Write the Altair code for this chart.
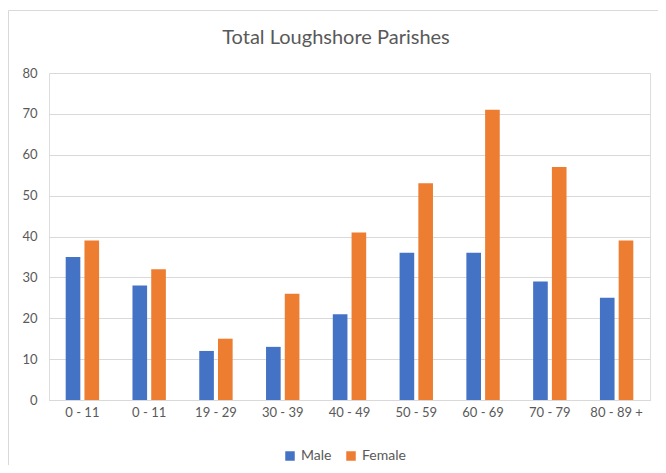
import altair as alt
import pandas as pd

categories = ["0 - 11", "0 - 11", "19 - 29", "30 - 39", "40 - 49", "50 - 59", "60 - 69", "70 - 79", "80 - 89 +"]
male = [35, 28, 12, 13, 21, 36, 36, 29, 25]
female = [39, 32, 15, 26, 41, 53, 71, 57, 39]
series = ["Male", "Female"]
colors = ["#4472C4", "#ED7D31"]
title_text = "Total Loughshore Parishes"

rows = []
for i, c in enumerate(categories):
    rows.append({"idx": i, "cat": c, "series": "Male", "value": male[i]})
    rows.append({"idx": i, "cat": c, "series": "Female", "value": female[i]})
df = pd.DataFrame(rows)
one = pd.DataFrame({"t": [title_text]})

label_expr = "[" + ",".join("'" + c + "'" for c in categories) + "][datum.value]"
FONT = "Lato"
GREY = "#595959"

bars = alt.Chart(df).mark_bar().encode(
    x=alt.X("idx:O", title=None,
            scale=alt.Scale(paddingInner=0.5, paddingOuter=0.25),
            axis=alt.Axis(labelExpr=label_expr, labelAngle=0, ticks=False,
                          domainColor="#D9D9D9", labelPadding=6, grid=False,
                          labelFontSize=13, labelFont=FONT, labelColor=GREY)),
    xOffset=alt.XOffset("series:N", sort=series,
                        scale=alt.Scale(paddingInner=0.22, paddingOuter=0)),
    y=alt.Y("value:Q", title=None,
            scale=alt.Scale(domain=[0, 80]),
            axis=alt.Axis(values=list(range(0, 81, 10)), ticks=False, domain=False,
                          gridColor="#D9D9D9", labelPadding=12,
                          labelFontSize=13, labelFont=FONT, labelColor=GREY)),
    color=alt.Color("series:N", sort=series,
                    scale=alt.Scale(domain=series, range=colors),
                    legend=alt.Legend(title=None, orient="none", direction="horizontal",
                                      legendX=234, legendY=376, symbolType="square",
                                      symbolSize=90, symbolStrokeWidth=0,
                                      labelFontSize=14, labelColor=GREY, labelFont=FONT,
                                      columnPadding=12, symbolOffset=0)),
)

top_line = alt.Chart(one).mark_rule(color="#D9D9D9", strokeWidth=1).encode(
    x=alt.value(-40.5), x2=alt.value(609), y=alt.value(-62.5)
)
left_line = alt.Chart(one).mark_rule(color="#D9D9D9", strokeWidth=1).encode(
    x=alt.value(-40.5), y=alt.value(-62.5), y2=alt.value(392)
)
title = alt.Chart(one).mark_text(font=FONT, fontSize=20, fontWeight="normal", color=GREY,
                                 align="center", baseline="middle").encode(
    x=alt.value(287), y=alt.value(-35), text="t:N"
)

chart = alt.layer(top_line, left_line, bars, title).properties(
    width=601, height=327,
    autosize=alt.AutoSizeParams(type="none"),
    padding={"left": 41, "top": 65, "right": 8, "bottom": 65},
).configure_view(stroke=None).configure(background="white")

chart.save("out.html", embed_options={"renderer": "svg", "actions": False})
